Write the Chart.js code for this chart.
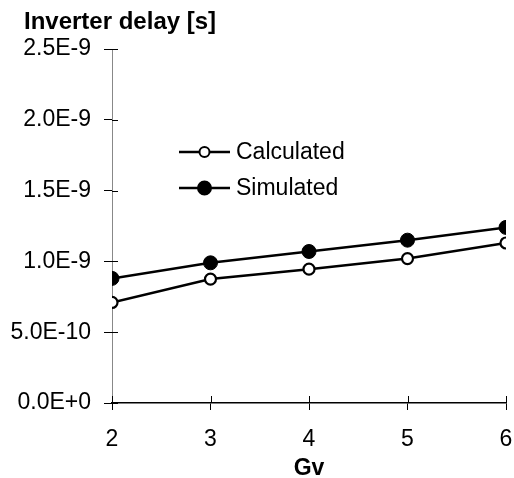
<!DOCTYPE html>
<html>
<head>
<meta charset="utf-8">
<script src="https://cdn.jsdelivr.net/npm/chart.js@4.4.0/dist/chart.umd.min.js"></script>
<style>
  html, body { margin: 0; padding: 0; background: #fff; overflow: hidden; }
  #wrap { width: 514px; height: 478px; }
</style>
</head>
<body>
<div id="wrap"><canvas id="delayChart"></canvas></div>
<script>
// Gv on the x axis, inverter delay in seconds
const gv = [2, 3, 4, 5, 6];
const calculated = [7.1e-10, 8.75e-10, 9.45e-10, 1.02e-9, 1.13e-9];
const simulated = [8.8e-10, 9.9e-10, 1.07e-9, 1.15e-9, 1.24e-9];
const yTickValues = [0, 5e-10, 1e-9, 1.5e-9, 2e-9, 2.5e-9];
const yTickLabels = ["0.0E+0", "5.0E-10", "1.0E-9", "1.5E-9", "2.0E-9", "2.5E-9"];
const xTickValues = [2, 3, 4, 5, 6];

const FONT = "'Liberation Sans', Arial, sans-serif";

// ticks in the original cross the axis, so draw the inner half too
const crossTicks = {
  id: "crossTicks",
  afterDraw(chart) {
    const c = chart.ctx, a = chart.chartArea;
    const x = chart.scales.x, y = chart.scales.y;
    c.save();
    c.strokeStyle = "#000";
    c.lineWidth = 1;
    yTickValues.forEach(v => {
      const py = Math.round(y.getPixelForValue(v)) + 0.5;
      c.beginPath(); c.moveTo(a.left, py); c.lineTo(a.left + 6, py); c.stroke();
    });
    xTickValues.forEach(v => {
      const px = Math.round(x.getPixelForValue(v)) + 0.5;
      c.beginPath(); c.moveTo(px, a.bottom); c.lineTo(px, a.bottom - 7); c.stroke();
    });
    c.restore();
  }
};

// title at top left, plus a legend with line + marker samples inside the plot
const lineLegend = {
  id: "lineLegend",
  afterDraw(chart) {
    const c = chart.ctx, a = chart.chartArea;
    c.save();
    c.fillStyle = "#000";
    c.font = "bold 24px " + FONT;
    c.textBaseline = "alphabetic";
    c.textAlign = "left";
    c.fillText("Inverter delay [s]", 24, 29);

    const x0 = a.left + 67, x1 = a.left + 118;
    const rows = [
      { label: chart.data.datasets[0].label, y: a.top + 103, fill: "#fff", r: 5 },
      { label: chart.data.datasets[1].label, y: a.top + 139, fill: "#000", r: 6.5 }
    ];
    rows.forEach(r => {
      c.strokeStyle = "#000";
      c.lineWidth = 2.5;
      c.beginPath(); c.moveTo(x0, r.y); c.lineTo(x1, r.y); c.stroke();
      c.beginPath();
      c.arc((x0 + x1) / 2, r.y, r.r, 0, Math.PI * 2);
      c.fillStyle = r.fill; c.fill();
      c.lineWidth = 2; c.stroke();
      c.fillStyle = "#000";
      c.font = "23px " + FONT;
      c.textBaseline = "middle";
      c.fillText(r.label, x1 + 6, r.y + 1);
    });
    c.restore();
  }
};

new Chart(document.getElementById("delayChart").getContext("2d"), {
  type: "line",
  data: {
    datasets: [
      {
        label: "Calculated",
        data: gv.map((g, i) => ({ x: g, y: calculated[i] })),
        borderColor: "#000",
        borderWidth: 2.5,
        pointRadius: 5.5,
        pointBackgroundColor: "#fff",
        pointBorderColor: "#000",
        pointBorderWidth: 2.2,
        tension: 0
      },
      {
        label: "Simulated",
        data: gv.map((g, i) => ({ x: g, y: simulated[i] })),
        borderColor: "#000",
        borderWidth: 2.5,
        pointRadius: 7,
        pointBackgroundColor: "#000",
        pointBorderColor: "#000",
        pointBorderWidth: 1,
        tension: 0
      }
    ]
  },
  options: {
    responsive: true,
    maintainAspectRatio: false,
    animation: false,
    layout: { padding: { left: 0, right: 8, top: 49, bottom: 0 } },
    plugins: {
      legend: { display: false },
      tooltip: { enabled: false },
      title: { display: false }
    },
    scales: {
      x: {
        type: "linear",
        min: 2,
        max: 6,
        afterBuildTicks: s => { s.ticks = xTickValues.map(v => ({ value: v })); },
        ticks: {
          color: "#000",
          font: { family: FONT, size: 23 },
          padding: 16
        },
        grid: { drawOnChartArea: false, tickLength: 7, color: "#000" },
        border: { color: "#000", width: 1.5 },
        title: {
          display: true,
          text: "Gv",
          color: "#000",
          font: { family: FONT, size: 23, weight: "bold" },
          padding: { top: 3, bottom: -4 }
        },
        afterFit: s => { s.height = 75; s.paddingLeft = 0; s.paddingRight = 0; }
      },
      y: {
        min: 0,
        max: 2.5e-9,
        afterBuildTicks: s => { s.ticks = yTickValues.map(v => ({ value: v })); },
        ticks: {
          color: "#000",
          font: { family: FONT, size: 23 },
          padding: 13,
          callback: (v, i) => yTickLabels[i]
        },
        grid: { drawOnChartArea: false, tickLength: 8, color: "#000" },
        border: { color: "#888", width: 1 },
        afterFit: s => { s.width = 112; s.paddingTop = 0; s.paddingBottom = 0; }
      }
    }
  },
  plugins: [crossTicks, lineLegend]
});
</script>
</body>
</html>
